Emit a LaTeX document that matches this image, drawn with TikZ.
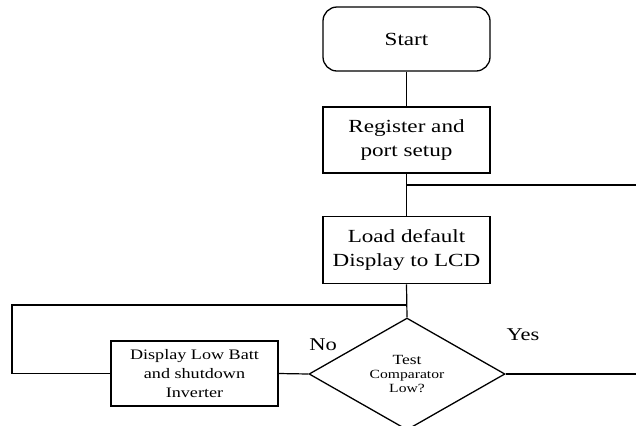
\documentclass[tikz,border=0pt]{standalone}
\usepackage{fontspec}
\setmainfont{Liberation Serif}[FakeStretch=1.25]
\usetikzlibrary{shapes.geometric}

\begin{document}
\begin{tikzpicture}[x=1bp,y=-1bp,
  wire/.style={line width=1.2bp},
  stepbox/.style={draw, line width=1.8bp, minimum width=167bp, inner sep=0pt,
    align=center, font=\fontsize{18.5bp}{24bp}\selectfont},
  termbox/.style={draw, line width=1.3bp, rounded corners=14bp, minimum width=167bp,
    minimum height=64bp, font=\fontsize{18.5bp}{22bp}\selectfont},
  decision/.style={draw, diamond, line width=1.3bp, inner sep=0pt,
    minimum width=196bp, minimum height=104bp, align=center,
    font=\fontsize{12.5bp}{14bp}\selectfont},
  branch/.style={font=\fontsize{18bp}{20bp}\selectfont}]
\useasboundingbox (0,0) rectangle (637,425);

% --- main column ---
\node[termbox] (start) at (406.5,39) {Start};
\node[stepbox, minimum height=66bp] (setup) at (406.5,140) {Register and\\port setup};
\node[stepbox, minimum height=67bp] (lcd) at (406.5,250) {Load default\\Display to LCD};
\node[decision] (test) at (407,374)
  {{\fontsize{14bp}{14bp}\selectfont Test}\\Comparator\\Low?};

% --- low battery branch ---
\node[stepbox, line width=1.6bp, minimum height=65bp,
  font=\fontsize{14.5bp}{19bp}\selectfont] (lowbatt) at (194.5,373.5)
  {Display Low Batt\\and shutdown\\Inverter};

\node[branch] (nolbl) at (323,345) {No};
\node[branch] (yeslbl) at (523,335) {Yes};

% junctions and free ends
\coordinate (jsetup) at (setup.south |- 0,185);
\coordinate (exitsetup) at (636,185);
\coordinate (jloop) at (lcd.south |- 0,305);
\coordinate (loopleft) at (12,305);
\coordinate (exityes) at (636,374);

% --- connectors ---
\draw[wire] (start.south) -- (setup.north);
\draw[wire] (setup.south) -- (lcd.north);
\draw[wire] (jsetup) -- (exitsetup);
\draw[wire] (lcd.south) -- (test.north);
\draw[wire] (jloop) -- (loopleft) |- (lowbatt.west);
\draw[wire] (test.west) -- (lowbatt.east);
\draw[wire] (test.east) -- (exityes);
\end{tikzpicture}
\end{document}
